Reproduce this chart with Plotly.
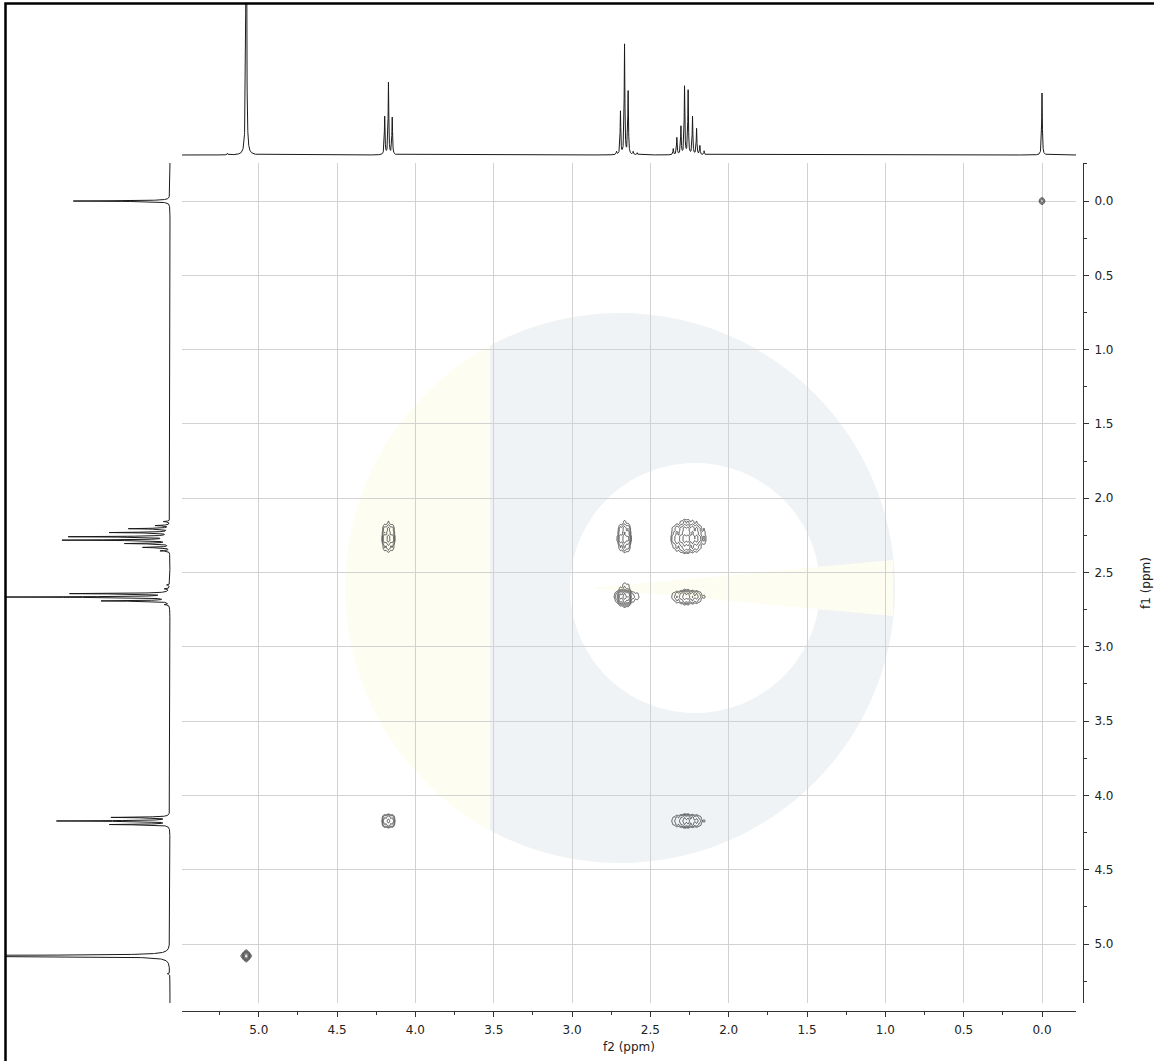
import numpy as np
import plotly.graph_objects as go

W, H = 1154, 1061

# ---------------- 1D proton multiplets (ppm, height in top-trace units) ----------------
H508_PPM = [5.200, 5.080]
H508_INT = [1.5, 420.0]
H417_PPM = [4.196, 4.172, 4.148]
H417_INT = [38.0, 72.0, 37.0]
H265_PPM = [2.716, 2.691, 2.665, 2.642, 2.610, 2.584]
H265_INT = [3.0, 43.0, 110.0, 63.0, 3.0, 2.0]
H227_PPM = [2.354, 2.331, 2.305, 2.282, 2.259, 2.231, 2.205, 2.184, 2.157]
H227_INT = [6.0, 17.0, 28.0, 68.0, 64.0, 38.0, 26.0, 9.0, 4.0]
TMS_PPM = [0.000]
TMS_INT = [62.0]

# ---------------- COSY peaks: f2 multiplet, f1 multiplet, relative intensity ----------------
CROSS_F2 = ["TMS", "H508", "H417", "H265", "H227", "H265", "H227", "H417", "H227"]
CROSS_F1 = ["TMS", "H508", "H227", "H227", "H227", "H265", "H265", "H417", "H417"]
CROSS_INT = [0.6, 9.0, 1.0, 1.3, 2.5, 6.0, 1.3, 1.0, 1.2]

# ---------------- axis ranges / ticks ----------------
F2_RANGE = [5.49, -0.217]
F1_RANGE = [5.397, -0.256]
TICK_STEP = 0.5
MINOR_STEP = 0.25
X_TITLE = "f2 (ppm)"
Y_TITLE = "f1 (ppm)"

MULT = {
    "H508": (H508_PPM, H508_INT),
    "H417": (H417_PPM, H417_INT),
    "H265": (H265_PPM, H265_INT),
    "H227": (H227_PPM, H227_INT),
    "TMS": (TMS_PPM, TMS_INT),
}


def lorentz_spectrum(x, hw=0.0025):
    y = np.zeros_like(x)
    for ppm_list, int_list in MULT.values():
        for c, h in zip(ppm_list, int_list):
            y += h / (1.0 + ((x - c) / hw) ** 2)
    return y


def profile(x, name, sigma, hw, eta=0.15):
    c, h = MULT[name]
    h = np.array(h) / max(h)
    p = np.zeros_like(x)
    for ci, hi in zip(c, h):
        g = np.exp(-0.5 * ((x - ci) / sigma) ** 2)
        lo = 1.0 / (1.0 + ((x - ci) / hw) ** 2)
        p += hi * ((1 - eta) * g + eta * lo)
    return p


def window(name, pad):
    c, h = MULT[name]
    h = np.array(h) / max(h)
    cs = [ci for ci, hi in zip(c, h) if hi > 0.01]
    return min(cs) - pad, max(cs) + pad


def px(xp):
    return xp / W


def py(yp):
    return 1 - yp / H


fig = go.Figure()

# ---------------- top projection (f2) ----------------
xs = np.arange(F2_RANGE[1], F2_RANGE[0], 0.0005)
top = lorentz_spectrum(xs)
fig.add_trace(go.Scatter(x=np.round(xs, 5), y=np.round(top, 2), xaxis="x2", yaxis="y2",
                         mode="lines", line=dict(color="#1a1a1a", width=1),
                         hoverinfo="skip", showlegend=False))

# ---------------- left projection (f1) ----------------
ys = np.arange(F1_RANGE[1], F1_RANGE[0], 0.0005)
left = lorentz_spectrum(ys)
fig.add_trace(go.Scatter(x=np.round(left, 2), y=np.round(ys, 5), xaxis="x3", yaxis="y3",
                         mode="lines", line=dict(color="#1a1a1a", width=1),
                         hoverinfo="skip", showlegend=False))

# ---------------- 2D contour peaks ----------------
CCOL = "#383838"
for f2n, f1n, inten in zip(CROSS_F2, CROSS_F1, CROSS_INT):
    a2, b2 = window(f2n, 0.08)
    a1, b1 = window(f1n, 0.08)
    gx = np.arange(a2, b2, 0.002)
    gy = np.arange(a1, b1, 0.002)
    p2 = profile(gx, f2n, 0.0085, 0.008)
    p1 = profile(gy, f1n, 0.011, 0.009)
    z = inten * np.outer(p1, p2)
    lz = np.log10(np.maximum(z, 1e-4))
    fig.add_trace(go.Contour(x=np.round(gx, 4), y=np.round(gy, 4), z=np.round(lz, 3),
                             xaxis="x", yaxis="y",
                             contours=dict(coloring="lines", start=-1.15, end=1.2, size=0.35),
                             colorscale=[[0, CCOL], [1, CCOL]], showscale=False,
                             line=dict(width=0.9), hoverinfo="skip"))

# ---------------- layout ----------------
X0, X1 = 182, 1076
Y0, Y1 = 163, 1003
font = dict(family="DejaVu Sans, sans-serif", size=12, color="#222222")

axis_common = dict(
    showline=True, linecolor="#333333", linewidth=1,
    ticks="outside", ticklen=5, tickcolor="#333333", tickwidth=1,
    tick0=0, dtick=TICK_STEP, tickformat=".1f",
    minor=dict(dtick=MINOR_STEP, ticks="outside", ticklen=3, tickcolor="#333333", showgrid=False),
    showgrid=True, gridcolor="#d2d2d2", gridwidth=1, zeroline=False,
    tickfont=font, ticklabelstandoff=3,
)


def poly_path(pts):
    return "M " + " L ".join(f"{px(a):.5f},{py(b):.5f}" for a, b in pts) + " Z"


# faint watermark logo
cx, cy, R = 620, 588, 275
ang = np.linspace(0, 2 * np.pi, 120)
disc = [(cx + R * np.cos(t), cy + R * np.sin(t)) for t in ang]
th = np.arccos((490 - cx) / R)
arc = np.linspace(-th, th, 100)
blue_outer = [(cx + R * np.cos(t), cy + R * np.sin(t)) for t in arc]
icx, icy, ir = 695, 588, 125
inner = [(icx + ir * np.cos(t), icy + ir * np.sin(t)) for t in ang]
wedge = [(590, 588), (893, 560), (893, 616)]

shapes = [
    dict(type="path", xref="paper", yref="paper", path=poly_path(disc),
         fillcolor="#fefdf1", line=dict(width=0), layer="below"),
    dict(type="path", xref="paper", yref="paper", path=poly_path(blue_outer),
         fillcolor="#eff3f6", line=dict(width=0), layer="below"),
    dict(type="path", xref="paper", yref="paper", path=poly_path(inner),
         fillcolor="#ffffff", line=dict(width=0), layer="below"),
    dict(type="path", xref="paper", yref="paper", path=poly_path(wedge),
         fillcolor="#fefdf1", line=dict(width=0), layer="below"),
    dict(type="rect", xref="paper", yref="paper", x0=px(5.5), x1=1.02, y0=-0.02, y1=py(3.5),
         line=dict(color="black", width=2.5), layer="above"),
]

fig.update_layout(
    width=W, height=H, autosize=False,
    margin=dict(l=0, r=0, t=0, b=0),
    paper_bgcolor="white", plot_bgcolor="rgba(0,0,0,0)",
    showlegend=False, font=font,
    xaxis=dict(domain=[px(X0), px(X1)], range=F2_RANGE, anchor="free", position=py(1011),
               title=dict(text=X_TITLE, font=font, standoff=6), **axis_common),
    yaxis=dict(domain=[py(Y1), py(Y0)], range=F1_RANGE, anchor="free", position=px(1083),
               side="right", **axis_common),
    xaxis2=dict(domain=[px(X0), px(X1)], matches="x", anchor="y2", visible=False),
    yaxis2=dict(domain=[py(160), py(3)], range=[-5, 152], anchor="x2", visible=False),
    xaxis3=dict(domain=[px(6), px(176)], range=[(170 - 6) / 1.56, -(176 - 170) / 1.56],
                anchor="y3", visible=False),
    yaxis3=dict(domain=[py(Y1), py(Y0)], matches="y", anchor="x3", visible=False),
    shapes=shapes,
    annotations=[dict(text=Y_TITLE, xref="paper", yref="paper", x=px(1146), y=py(583),
                      textangle=-90, showarrow=False, font=font,
                      xanchor="center", yanchor="middle")],
)

fig.write_html("out.html", config={"displayModeBar": False},
               post_script="document.body.style.margin='0';document.body.style.overflow='hidden';")
